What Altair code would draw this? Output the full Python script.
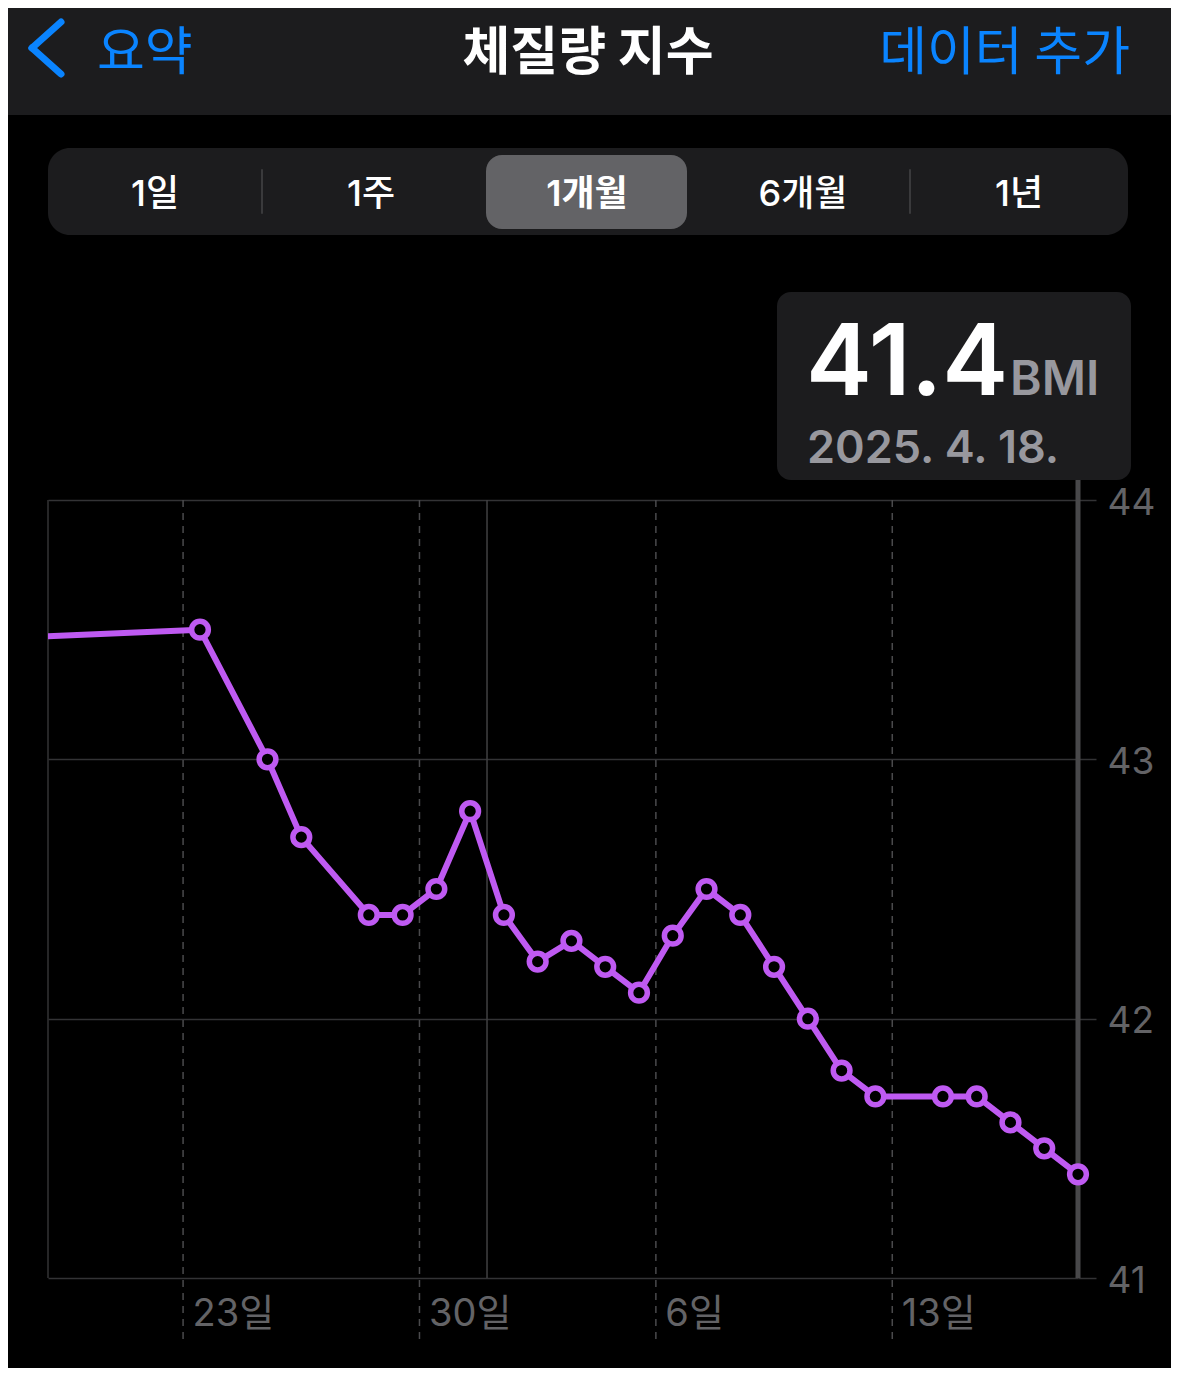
import altair as alt
import pandas as pd

# ---------------- data ----------------
dates = ["2025-03-14", "2025-03-23", "2025-03-25", "2025-03-26", "2025-03-28",
         "2025-03-29", "2025-03-30", "2025-03-31", "2025-04-01", "2025-04-02",
         "2025-04-03", "2025-04-04", "2025-04-05", "2025-04-06", "2025-04-07",
         "2025-04-08", "2025-04-09", "2025-04-10", "2025-04-11", "2025-04-12",
         "2025-04-14", "2025-04-15", "2025-04-16", "2025-04-17", "2025-04-18"]
bmi = [43.45, 43.50, 43.00, 42.70, 42.40,
       42.40, 42.50, 42.80, 42.40, 42.22,
       42.30, 42.20, 42.10, 42.32, 42.50,
       42.40, 42.20, 42.00, 41.80, 41.70,
       41.70, 41.70, 41.60, 41.50, 41.40]
window_start = "2025-03-19"
week_ticks = ["2025-03-23", "2025-03-30", "2025-04-06", "2025-04-13"]
month_starts = ["2025-04-01"]
y_ticks = [41, 42, 43, 44]
periods = ["1일", "1주", "1개월", "6개월", "1년"]
selected_period = "1개월"
title_text = "체질량 지수"
back_text = "요약"
add_text = "데이터 추가"
unit_text = "BMI"

# ---------------- styling ----------------
BG = "#000000"
BAR = "#1c1c1e"
BLUE = "#0a84ff"
PURPLE = "#bf5af2"
GRID = "#333335"
DASH = "#4a4a4c"
SEL = "#636366"
AXIS_TXT = "#636366"
SUB_TXT = "#98989e"
KR = "Noto Sans CJK KR"
MIX = "Inter, Noto Sans CJK KR"
NUM = "Inter"

# plot area in page pixels
PL, PT = 48, 500
W, H = 1030, 778


def px(v):
    return v - PL


def py(v):
    return v - PT


df = pd.DataFrame({"t": [d + "T12:00:00" for d in dates], "bmi": bmi})
pts_df = df[df["t"] >= window_start]
week_df = pd.DataFrame({"t": [d + "T00:00:00" for d in week_ticks]})
month_df = pd.DataFrame({"t": [d + "T00:00:00" for d in month_starts]})
last_df = df.tail(1)


def dt(s, hours=0):
    y, m, d = [int(p) for p in s.split("-")]
    return alt.DateTime(year=y, month=m, date=d, hours=hours)


x_enc = alt.X(
    "t:T",
    scale=alt.Scale(domain=[dt(window_start), dt(dates[-1], 12)], nice=False),
    axis=alt.Axis(
        values=[dt(d) for d in week_ticks],
        labelExpr="date(datum.value) + '일'",
        grid=False, ticks=False, domain=False,
        labelAlign="left", labelOffset=9, labelPadding=36, labelBaseline="middle",
        labelFont=MIX, labelFontSize=38, labelColor=AXIS_TXT,
        labelFlush=False, labelOverlap=False, title=None,
    ),
)
y_enc = alt.Y(
    "bmi:Q",
    scale=alt.Scale(domain=[y_ticks[0], y_ticks[-1]], nice=False, zero=False),
    axis=alt.Axis(
        orient="right", values=y_ticks, format="d",
        grid=True, gridColor=GRID, gridWidth=1.5,
        ticks=True, tickSize=18, tickColor=GRID, tickWidth=1.5,
        domain=False, labelPadding=11, labelOffset=3, labelBaseline="middle",
        labelFont=NUM, labelFontSize=37, labelColor=AXIS_TXT,
        labelFlush=False, title=None,
    ),
)

dummy = alt.Data(values=[{"k": 0}])


def rect(x1, y1, x2, y2, color, radius=0):
    return alt.Chart(dummy).mark_rect(color=color, cornerRadius=radius).encode(
        x=alt.value(px(x1)), x2=alt.value(px(x2)),
        y=alt.value(py(y1)), y2=alt.value(py(y2)))


def seg(x1, y1, x2, y2, color, width):
    return alt.Chart(dummy).mark_rule(color=color, strokeWidth=width, strokeCap="round").encode(
        x=alt.value(px(x1)), x2=alt.value(px(x2)),
        y=alt.value(py(y1)), y2=alt.value(py(y2)))


def txt(s, x, y, size, color, weight="normal", align="center",
        font=KR, baseline="middle"):
    return alt.Chart(dummy).mark_text(
        text=s, fontSize=size, color=color, fontWeight=weight,
        align=align, baseline=baseline, font=font).encode(
        x=alt.value(px(x)), y=alt.value(py(y)))


layers = []
# navigation bar
layers.append(rect(0, 0, 1179, 115, BAR))
layers.append(seg(61, 22, 32, 48, BLUE, 7))
layers.append(seg(32, 48, 61, 74, BLUE, 7))
layers.append(txt(back_text, 97, 54, 52, BLUE, align="left"))
layers.append(txt(title_text, 588, 54, 52, "#ffffff", weight="bold"))
layers.append(txt(add_text, 1130, 54, 52, BLUE, align="right"))

# segmented control
SEG_L, SEG_R = 48, 1128
seg_w = (SEG_R - SEG_L) / len(periods)
layers.append(rect(SEG_L, 148, SEG_R, 235, BAR, 22))
sel_i = periods.index(selected_period)
layers.append(rect(SEG_L + sel_i * seg_w + 6, 155, SEG_L + (sel_i + 1) * seg_w - 9, 229, SEL, 16))
for i in [1, 4]:
    sx = SEG_L + i * seg_w - 2
    layers.append(seg(sx, 170, sx, 213, "#3a3a3c", 2))
for i, p in enumerate(periods):
    cx = SEG_L + (i + 0.5) * seg_w - 1
    layers.append(txt(p, cx, 195, 36, "#ffffff",
                      weight=600 if p == selected_period else 500, font=MIX))

# tooltip card
layers.append(rect(777, 292, 1131, 480, BAR, 14))
layers.append(txt(f"{bmi[-1]:.1f}", 806, 395, 99, "#ffffff", weight=600,
                  align="left", font=NUM, baseline="alphabetic"))
layers.append(txt(unit_text, 1010, 395, 48, SUB_TXT, weight=600,
                  align="left", font=NUM, baseline="alphabetic"))
yy, mm, dd = dates[-1].split("-")
layers.append(txt(f"{int(yy)}. {int(mm)}. {int(dd)}.", 807, 463, 45, SUB_TXT,
                  weight=600, align="left", font=NUM, baseline="alphabetic"))

# chart frame pieces
layers.append(alt.Chart(dummy).mark_rule(color=GRID, strokeWidth=1.5).encode(
    x=alt.value(0), y=alt.value(0), y2=alt.value(H)))
layers.append(alt.Chart(week_df).mark_rule(color=DASH, strokeWidth=1.5, strokeDash=[7, 6]).encode(
    x=x_enc, y=alt.value(0), y2=alt.value(py(1340))))
layers.append(alt.Chart(month_df).mark_rule(color="#404042", strokeWidth=1.5).encode(
    x=x_enc, y=alt.value(0), y2=alt.value(H)))
layers.append(alt.Chart(last_df).mark_rule(color="#48484a", strokeWidth=5).encode(
    x=x_enc, y=alt.value(py(480)), y2=alt.value(H)))

# data
layers.append(alt.Chart(df).mark_line(color=PURPLE, strokeWidth=6, clip=True,
                                      strokeJoin="round").encode(x=x_enc, y=y_enc))
layers.append(alt.Chart(pts_df).mark_point(shape="circle", size=280, filled=True, fill=BG,
                                           stroke=PURPLE, strokeWidth=5.5, opacity=1
                                           ).encode(x=x_enc, y=y_enc))

chart = alt.layer(*layers).properties(
    width=W, height=H,
    padding={"left": PL - 8, "top": PT - 8, "right": 1163 - (PL - 8) - W, "bottom": 1360 - (PT - 8) - H},
    autosize=alt.AutoSizeParams(type="none"),
    background=BG,
).configure_view(stroke=None)

chart.save("out.html", embed_options={"renderer": "svg", "actions": False})
